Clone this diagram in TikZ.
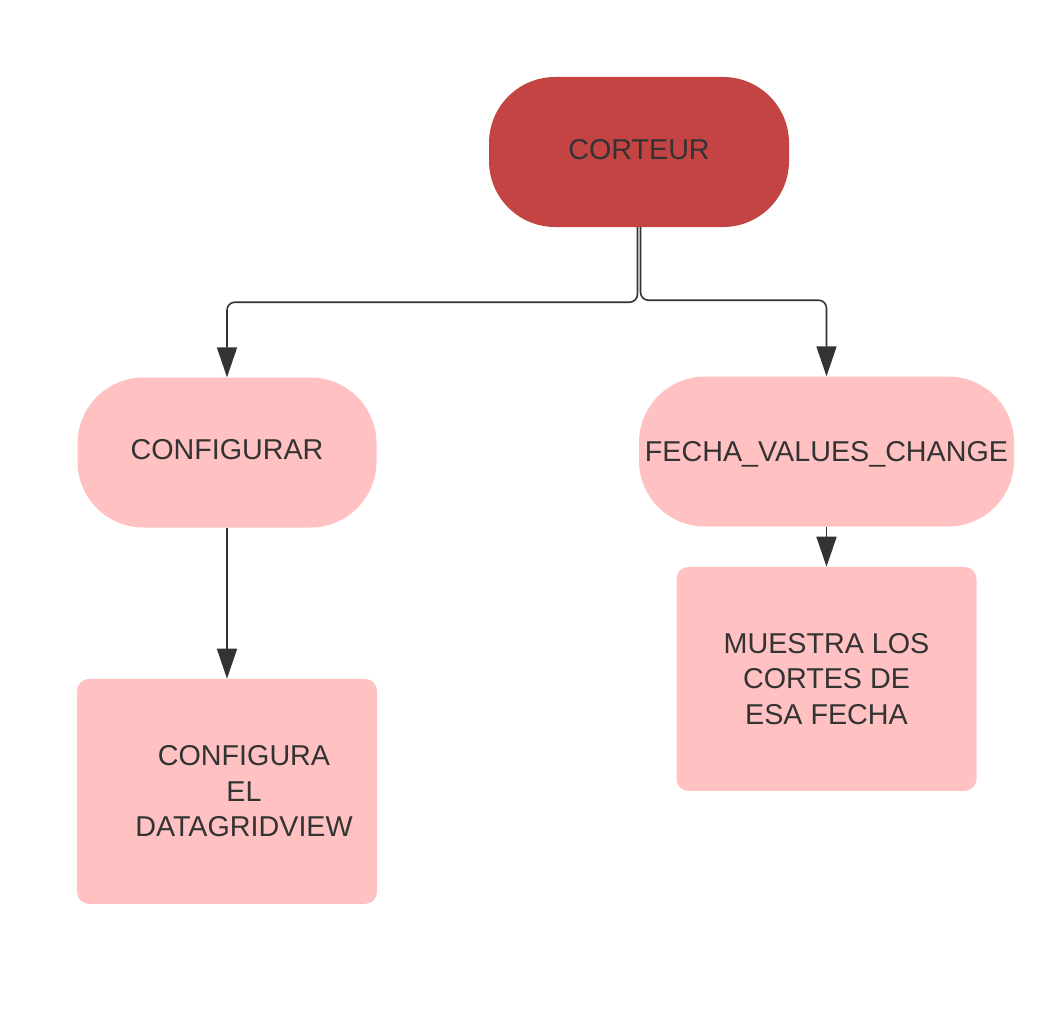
\documentclass[tikz,border=0pt]{standalone}
\usepackage{fontspec}
\setmainfont{Liberation Sans}
\usetikzlibrary{positioning}
\usetikzlibrary{arrows.meta}
\definecolor{darkred}{RGB}{196,67,67}
\definecolor{pink}{RGB}{255,193,193}
\definecolor{ink}{RGB}{51,51,51}

\begin{document}
\begin{tikzpicture}[x=1pt, y=-1pt, node distance=40pt,
    every node/.style={text=ink, font=\fontsize{28.7}{35.5}\selectfont, align=center, inner sep=0pt},
    stadium/.style={rounded corners=66pt, minimum height=150pt, minimum width=300pt},
    box/.style={rounded corners=12pt, fill=pink, minimum width=300pt, minimum height=225pt},
    link/.style={draw=ink, line width=1.6pt, rounded corners=8pt, -{Triangle[width=20pt, length=30pt]}}]
    \useasboundingbox (0,0) rectangle (1056,1011);

    \node (corteur) [stadium, fill=darkred, text depth=0.55em] at (639,152) {CORTEUR};
    \node (conf) [stadium, fill=pink, minimum width=299pt, text depth=0.55em] at (227,452.5) {CONFIGURAR};
    \node (fecha) [stadium, fill=pink, minimum width=375pt, text depth=0pt] at (826.5,451.5) {FECHA\_VALUES\_CHANGE};
    \node (dgv) [box, below=151pt of conf, label={[xshift=17pt]center:CONFIGURA\\EL\\DATAGRIDVIEW}] {};
    \node (muestra) [box, below=40pt of fecha, minimum height=224pt] {MUESTRA LOS\\CORTES DE\\ESA FECHA};

    \draw[link] ([xshift=-1.5pt]corteur.south) -- ++(0,75) -| (conf.north);
    \draw[link] ([xshift=1.5pt]corteur.south) -- ++(0,73) -| (fecha.north);
    \draw[link] (conf.south) -- (dgv.north);
    \draw[link] (fecha.south) -- (muestra.north);
\end{tikzpicture}
\end{document}
